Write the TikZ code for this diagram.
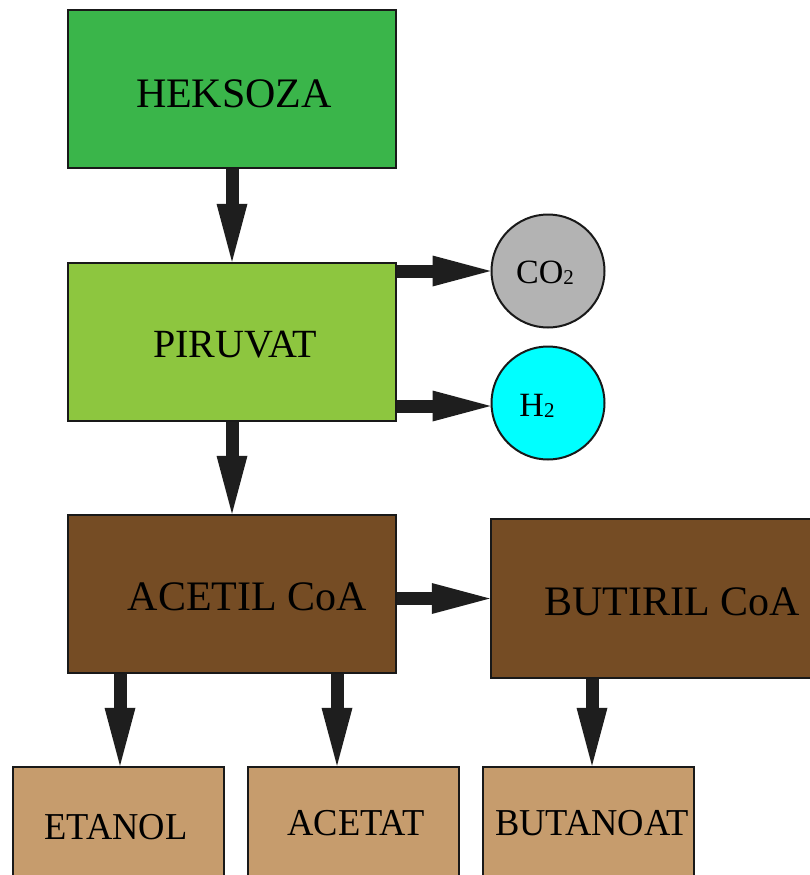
\documentclass[tikz,border=0pt]{standalone}
\usepackage{fontspec}
\setmainfont{Liberation Serif}
\usetikzlibrary{arrows.meta}
\definecolor{heksgreen}{HTML}{3AB54A}
\definecolor{pirugreen}{HTML}{8DC63F}
\definecolor{darkbrown}{HTML}{754C24}
\definecolor{lightbrown}{HTML}{C69C6D}
\definecolor{gasgray}{HTML}{B3B3B3}
\definecolor{gascyan}{HTML}{00FFFF}
\definecolor{arrowdark}{HTML}{1E1E1E}
\newcommand{\smallsub}[1]{\raisebox{-1.5pt}{\fontsize{21}{21}\selectfont #1}}
\tikzset{
  box/.style={draw=black!90, line width=2.5pt, rectangle, inner sep=0pt},
  bigbox/.style={box, minimum width=328pt, minimum height=158pt},
  smallbox/.style={box, minimum width=211pt, minimum height=130pt, fill=lightbrown},
  gas/.style={draw=black!90, line width=2pt, circle, minimum size=113pt, inner sep=0pt},
  lbl/.style={anchor=base, inner sep=0pt, font=\fontsize{42}{48}\selectfont},
  smalllbl/.style={anchor=base, inner sep=0pt, font=\fontsize{38}{44}\selectfont, xscale=0.96, transform shape},
  gaslbl/.style={anchor=base, inner sep=0pt, font=\fontsize{34}{38}\selectfont},
  flow/.style={draw=arrowdark, line width=13pt, line cap=butt, -{Triangle[length=58pt,width=31pt,line width=0pt]}}
}
\begin{document}
\begin{tikzpicture}[x=1pt,y=-1pt]
\useasboundingbox (0,0) rectangle (810,875);
\clip (0,0) rectangle (810,875);
\fill[white] (0,0) rectangle (810,875);
% main boxes
\node[bigbox, fill=heksgreen] (heks) at (232,89) {};
\node[bigbox, fill=pirugreen] (piru) at (232,342) {};
\node[bigbox, fill=darkbrown] (acetil) at (232,594) {};
\node[box, fill=darkbrown, minimum width=360pt, minimum height=159pt] (butiril) at (671,598.5) {};
% gases
\node[gas, fill=gasgray] (co2) at (548,271) {};
\node[gas, fill=gascyan] (h2) at (548,403) {};
% products
\node[smallbox] (etanol) at (118.5,832) {};
\node[smallbox] (acetat) at (353.5,832) {};
\node[smallbox] (butanoat) at (588.5,832) {};
% labels
\node[lbl] (heksT) at (234,107) {HEKSOZA};
\node[lbl, font=\fontsize{40}{46}\selectfont] (piruT) at (235,357) {PIRUVAT};
\node[lbl] (acetilT) at (247.5,610) {ACETIL CoA};
\node[lbl] (butirilT) at (672,615) {BUTIRIL CoA};
\node[gaslbl] (co2T) at (545,283) {CO\smallsub{2}};
\node[gaslbl] (h2T) at (537,416) {H\smallsub{2}};
\node[smalllbl] (etanolT) at (116,839) {ETANOL};
\node[smalllbl] (acetatT) at (356,835) {ACETAT};
\node[smalllbl] (butanoatT) at (592,835) {BUTANOAT};
% connector end points
\coordinate (etIn) at ([xshift=1.5pt]etanol.north);
\coordinate (acIn) at ([xshift=-16.5pt]acetat.north);
\coordinate (buIn) at ([xshift=3.5pt]butanoat.north);
% arrows
\draw[flow] (heks.south) -- (piru.north);
\draw[flow] (piru.south) -- (acetil.north);
\draw[flow] (co2.west -| piru.east) -- (co2.west);
\draw[flow] ([yshift=-3pt]h2.west -| piru.east) -- ([yshift=-3pt]h2.west);
\draw[flow] (butiril.west -| acetil.east) -- (butiril.west);
\draw[flow] (etIn |- acetil.south) -- (etIn);
\draw[flow] (acIn |- acetil.south) -- (acIn);
\draw[flow] (buIn |- butiril.south) -- (buIn);
\end{tikzpicture}
\end{document}
